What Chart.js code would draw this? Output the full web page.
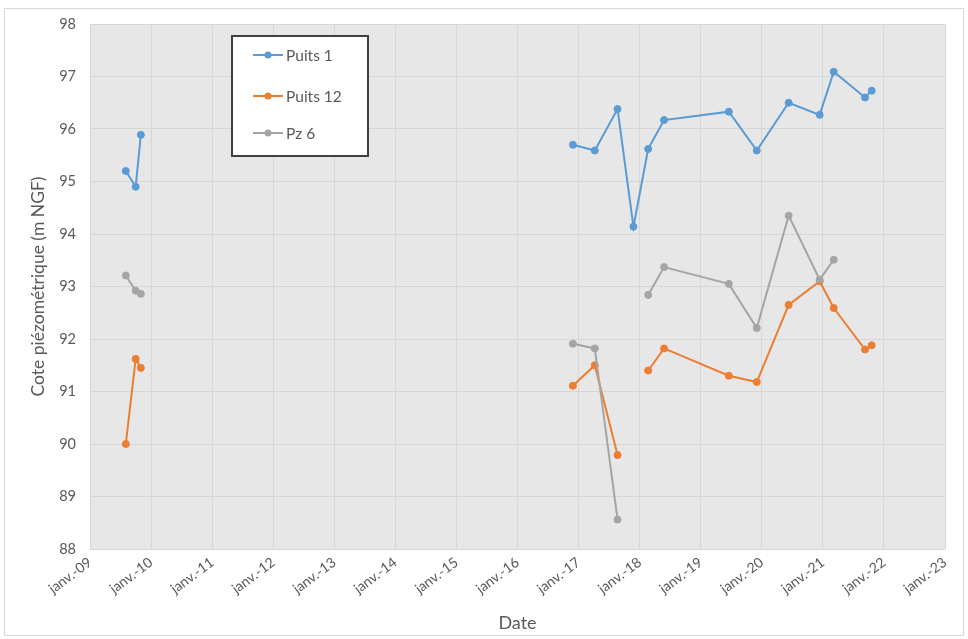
<!DOCTYPE html>
<html>
<head>
<meta charset="utf-8">
<script src="https://cdn.jsdelivr.net/npm/chart.js@4/dist/chart.umd.min.js"></script>
<style>
  html, body { margin: 0; padding: 0; background: #ffffff; }
  canvas { display: block; }
</style>
</head>
<body>
<canvas id="c" width="968" height="639"></canvas>
<script>
const seriesNames = ["Puits 1", "Puits 12", "Pz 6"];

const dates = ["2009-08-03","2009-10-01","2009-11-01","2016-11-28","2017-04-08","2017-08-22","2017-11-25","2018-02-21","2018-05-27","2019-06-18","2019-12-02","2020-06-10","2020-12-13","2021-03-07","2021-09-10","2021-10-20"];

const puits1Values  = [95.20, 94.90, 95.89, 95.70, 95.59, 96.38, 94.14, 95.62, 96.17, 96.33, 95.59, 96.50, 96.27, 97.09, 96.60, 96.73];
const puits12Values = [90.00, 91.62, 91.45, 91.11, 91.50, 89.79, null,  91.40, 91.82, 91.30, 91.18, 92.65, 93.10, 92.59, 91.80, 91.88];
const pz6Values     = [93.21, 92.92, 92.86, 91.91, 91.82, 88.56, null,  92.84, 93.37, 93.05, 92.21, 94.35, 93.13, 93.51, null,  null];

const yearTicks = [2009, 2010, 2011, 2012, 2013, 2014, 2015, 2016, 2017, 2018, 2019, 2020, 2021, 2022, 2023];
const tickPrefix = "janv.-";
const yMin = 88, yMax = 98;

const colors = ["#5b9bd5", "#ed7d31", "#a5a5a5"];

// ---- helpers ----
function toYear(s) {
  const d = new Date(s + "T00:00:00Z");
  const y = d.getUTCFullYear();
  const start = Date.UTC(y, 0, 1), end = Date.UTC(y + 1, 0, 1);
  return y + (d.getTime() - start) / (end - start);
}
function buildPoints(values) {
  const pts = [];
  for (let i = 0; i < dates.length; i++) {
    const x = toYear(dates[i]);
    if (pts.length && x - pts[pts.length - 1].x > 3) {
      pts.push({ x: (x + pts[pts.length - 1].x) / 2, y: null }); // no readings 2010-2016
    }
    pts.push({ x: x, y: values[i] });
  }
  return pts;
}

const allValues = [puits1Values, puits12Values, pz6Values];

const datasets = seriesNames.map((name, i) => ({
  label: name,
  data: buildPoints(allValues[i]),
  borderColor: colors[i],
  backgroundColor: colors[i],
  borderWidth: 2,
  pointRadius: 3.5,
  pointHoverRadius: 3.5,
  pointBorderWidth: 1,
  spanGaps: false,
  tension: 0,
  order: seriesNames.length - i
}));

const FONT = "Lato, 'Open Sans', sans-serif";
const TXT = "#595959";

const framePlugin = {
  id: "frame",
  beforeDraw(chart) {
    const ctx = chart.ctx, a = chart.chartArea;
    ctx.save();
    ctx.fillStyle = "#ffffff";
    ctx.fillRect(0, 0, chart.width, chart.height);
    ctx.strokeStyle = "#d9d9d9";
    ctx.lineWidth = 1;
    ctx.strokeRect(4.5, 8.5, chart.width - 9, chart.height - 12);
    ctx.fillStyle = "#e7e7e7";
    ctx.fillRect(a.left, a.top, a.right - a.left, a.bottom - a.top);
    ctx.restore();
  }
};

const legendPlugin = {
  id: "boxLegend",
  afterDraw(chart) {
    const ctx = chart.ctx, a = chart.chartArea;
    const bx = a.left + 142, by = a.top + 12, bw = 136, bh = 120;
    ctx.save();
    ctx.fillStyle = "#ffffff";
    ctx.fillRect(bx, by, bw, bh);
    ctx.strokeStyle = "#404040";
    ctx.lineWidth = 2;
    ctx.strokeRect(bx, by, bw, bh);
    const rows = [19, 60, 97];
    chart.data.datasets.forEach((ds, i) => {
      const y = by + rows[i];
      ctx.strokeStyle = ds.borderColor;
      ctx.lineWidth = 2;
      ctx.beginPath();
      ctx.moveTo(bx + 21, y);
      ctx.lineTo(bx + 51, y);
      ctx.stroke();
      ctx.fillStyle = ds.backgroundColor;
      ctx.beginPath();
      ctx.arc(bx + 36, y, 3.5, 0, Math.PI * 2);
      ctx.fill();
      ctx.fillStyle = TXT;
      ctx.font = "15.5px " + FONT;
      ctx.textBaseline = "middle";
      ctx.textAlign = "left";
      ctx.fillText(ds.label, bx + 54, y + 1);
    });
    ctx.restore();
  }
};

new Chart(document.getElementById("c"), {
  type: "line",
  data: { datasets: datasets },
  plugins: [framePlugin, legendPlugin],
  options: {
    responsive: false,
    animation: false,
    layout: { padding: { left: 10, right: 23, top: 24, bottom: 0 } },
    plugins: {
      legend: { display: false },
      tooltip: { enabled: false }
    },
    scales: {
      x: {
        type: "linear",
        min: yearTicks[0],
        max: yearTicks[yearTicks.length - 1],
        afterBuildTicks(scale) {
          scale.ticks = yearTicks.map(v => ({ value: v }));
        },
        afterFit(scale) { scale.height = 90; },
        grid: { color: "#d6d6d6", lineWidth: 1, drawTicks: false },
        border: { display: false },
        ticks: {
          callback: v => tickPrefix + String(v % 100).padStart(2, "0"),
          minRotation: 37,
          maxRotation: 37,
          autoSkip: false,
          padding: 5,
          color: TXT,
          font: { family: FONT, size: 14 }
        },
        title: {
          display: true,
          text: "Date",
          color: TXT,
          font: { family: FONT, size: 18 },
          padding: { top: 0, bottom: 5 }
        }
      },
      y: {
        min: yMin,
        max: yMax,
        afterFit(scale) { scale.width = 80; },
        grid: { color: "#d6d6d6", lineWidth: 1, drawTicks: false },
        border: { display: false },
        ticks: {
          stepSize: 1,
          padding: 14,
          color: TXT,
          font: { family: FONT, size: 14.5 }
        },
        title: {
          display: true,
          text: "Cote piézométrique (m NGF)",
          color: TXT,
          font: { family: FONT, size: 17.5 },
          padding: { top: 18, bottom: 0 }
        }
      }
    }
  }
});
</script>
</body>
</html>
